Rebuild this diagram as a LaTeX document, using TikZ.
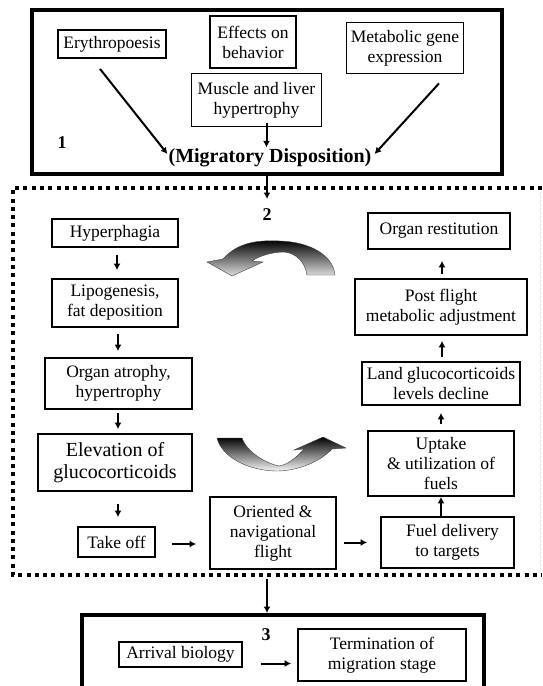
\documentclass[tikz,border=0pt]{standalone}
\usepackage{fontspec}
\setmainfont{Liberation Serif}
\usetikzlibrary{arrows.meta,calc}
\begin{document}
\begin{tikzpicture}[x=1pt,y=-1pt,
  bx/.style={draw, line width=1.8pt, inner sep=0pt, align=center, font=\fontsize{17.5}{20}\selectfont},
  arr/.style={line width=2pt, -{Latex[length=6.5pt,width=7pt]}},
  lbl/.style={font=\fontsize{18}{20}\selectfont\bfseries, inner sep=0pt},
  dotline/.style={line width=4pt, dash pattern=on 4pt off 4.3pt},
  curvedarrow/.style={top color=black, bottom color=gray!25, draw=black!75, line width=0.4pt},
  ]
\useasboundingbox (0,0) rectangle (542,686);
\clip (0,0) rectangle (542,686);

% ---------- box 1 ----------
\node[draw, line width=4pt, minimum width=470, minimum height=164, inner sep=0pt] (box1) at (267,92) {};
\node[bx, minimum width=108, minimum height=28] (ery) at (112,44) {Erythropoesis};
\node[bx, minimum width=86, minimum height=52] (eff) at (253,42) {Effects on\\behavior};
\node[bx, minimum width=117, minimum height=51] (met) at (405,48) {Metabolic gene\\expression};
\node[bx, minimum width=130, minimum height=53] (mus) at (256.5,100) {Muscle and liver\\hypertrophy};
\node[lbl] (l1) at (62,143) {1};
\node[font=\fontsize{20}{22}\selectfont\bfseries, inner sep=0pt] (mig) at (270,158) {(Migratory Disposition)};

\draw[arr] ($(ery.south)+(-12,10)$) -- ($(mig.west)+(-1,-4)$);
\draw[arr] ($(met.south)+(34,9)$) -- ($(mig.east)+(3,-4)$);
\draw[arr] ($(mus.south)+(10,-4)$) -- ($(mus.south)+(10,20)$);

% ---------- dotted region 2 ----------
\coordinate (tl) at (13,188);
\coordinate (bl) at (13,575);
\draw[dotline] (542,188) -- (tl) -- (bl) -- (542,575);
\draw[gray!25, line width=0.8pt, dash pattern=on 2pt off 2pt] (540,192) -- (540,572);

\coordinate (c2top) at (267,199);
\draw[arr] (box1.south) -- (c2top);
\node[lbl] (l2) at (267,215) {2};

\node[bx, minimum width=126, minimum height=28] (hyp) at (115,233) {Hyperphagia};
\node[bx, minimum width=126, minimum height=48] (lip) at (115,303) {Lipogenesis,\\fat deposition};
\node[bx, minimum width=147, minimum height=51] (org) at (118.5,383.5) {Organ atrophy,\\hypertrophy};
\node[bx, minimum width=154, minimum height=57, font=\fontsize{20}{22}\selectfont] (ele) at (115,462.5) {Elevation of\\glucocorticoids};
\node[bx, minimum width=77, minimum height=30] (tak) at (116.5,542) {Take off};
\node[bx, minimum width=126, minimum height=72] (ori) at (273,533) {Oriented \&\\navigational\\flight};
\node[bx, minimum width=133, minimum height=51] (fue) at (447.5,542.5) {\hspace*{10pt}Fuel delivery\\to targets};
\node[bx, minimum width=146, minimum height=65] (upt) at (441,463.5) {Uptake\\\& utilization of\\fuels};
\node[bx, minimum width=158, minimum height=43] (lan) at (441,383.5) {Land glucocorticoids\\levels decline};
\node[bx, minimum width=172, minimum height=56] (pos) at (441,307) {Post flight\\metabolic adjustment};
\node[bx, minimum width=142, minimum height=36] (res) at (439,231) {Organ restitution};

\draw[arr, shorten <=7pt, shorten >=8pt] ($(hyp.south)+(2,0)$) -- ($(lip.north)+(2,0)$);
\draw[arr, shorten <=6pt, shorten >=6pt] ($(lip.south)+(3,0)$) -- ($(org.north)+(-0.5,0)$);
\draw[arr, shorten <=3pt, shorten >=4pt] ($(org.south)+(-0.5,0)$) -- ($(ele.north)+(3,0)$);
\draw[arr, shorten <=12pt, shorten >=9pt] ($(ele.south)+(3,0)$) -- ($(tak.north)+(1.5,0)$);
\draw[arr, shorten <=16pt, shorten >=13pt] ($(tak.east)+(0,2)$) -- ($(tak.east -| ori.west)+(0,2)$);
\draw[arr, shorten <=7pt, shorten >=13pt] (ori.east |- fue.west) -- (fue.west);
\draw[arr] (upt.south |- fue.north) -- (upt.south);
\draw[arr, shorten <=6pt, shorten >=7pt] (upt.north) -- (lan.south);
\draw[arr, shorten <=4pt, shorten >=5pt] ($(lan.north)+(1,0)$) -- ($(pos.south)+(1,0)$);
\draw[arr, shorten <=4pt, shorten >=11pt] ($(pos.north)+(1,0)$) -- ($(res.south)+(3,0)$);

% curved arrows
\shadedraw[curvedarrow]
  (223,259) .. controls (238,242) and (258,240) .. (280,241)
  .. controls (310,242) and (333,255) .. (335,275)
  -- (307,275)
  .. controls (305,262) and (296,253) .. (284,252)
  .. controls (272,252) and (259,256) .. (252,261)
  -- (263,262) -- (232,276) -- (207,262) -- cycle;
\shadedraw[curvedarrow, bottom color=gray!8]
  (217,438) .. controls (222,458) and (250,471) .. (277,471)
  .. controls (297,471) and (320,462) .. (332,449)
  -- (346,448) -- (323,437) -- (294,450) -- (304,449)
  .. controls (296,458) and (287,465) .. (279,466)
  .. controls (265,463) and (247,452) .. (242,438) -- cycle;

% ---------- box 3 ----------
\node[draw, line width=4pt, minimum width=402, minimum height=90, inner sep=0pt] (box3) at (283,660) {};
\coordinate (c2bot) at (267,579);
\draw[arr] (c2bot) -- (c2bot |- box3.north);
\node[lbl] (l3) at (266,635) {3};
\node[bx, minimum width=123, minimum height=25] (arrb) at (180.5,654.5) {Arrival biology};
\node[bx, minimum width=168, minimum height=52] (ter) at (382,655) {Termination of\\migration stage};
\draw[arr, shorten <=18pt, shorten >=6pt] ($(arrb.east)+(0,9)$) -- ($(ter.west |- arrb.east)+(0,9)$);
\end{tikzpicture}
\end{document}
